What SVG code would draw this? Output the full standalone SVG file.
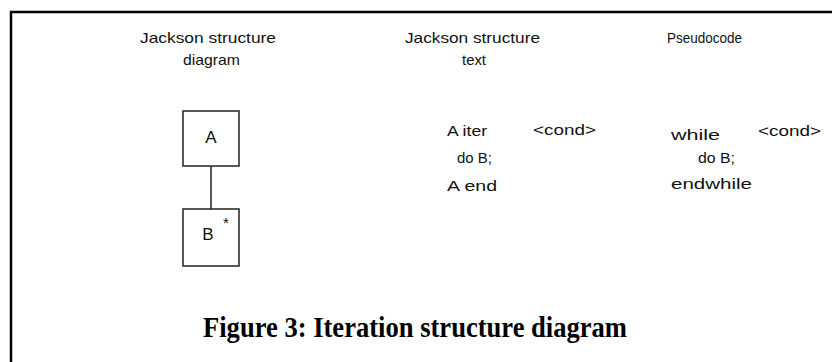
<svg xmlns="http://www.w3.org/2000/svg" width="832" height="362" viewBox="0 0 832 362">
  <style>
    .hdr { font-family: "Liberation Sans", Arial, sans-serif; font-size: 14.5px; fill: #111; }
    .code { font-family: "Liberation Sans", Arial, sans-serif; font-size: 15px; fill: #111; }
    .box { fill: #fff; stroke: #222; stroke-width: 1.5; }
    .lbl { font-family: "Liberation Sans", Arial, sans-serif; font-size: 17px; fill: #111; text-anchor: middle; }
    .caption { font-family: "Liberation Serif", "Times New Roman", serif; font-size: 30px; font-weight: bold; fill: #000; }
  </style>

  <rect x="0" y="0" width="832" height="362" fill="#fff"/>

  <!-- frame -->
  <path d="M11,362 V12 H832" fill="none" stroke="#000" stroke-width="2.5"/>

  <!-- column headings -->
  <g id="headings" class="hdr">
    <text x="140" y="43" textLength="136" lengthAdjust="spacingAndGlyphs">Jackson structure</text>
    <text x="183" y="65" textLength="57" lengthAdjust="spacingAndGlyphs">diagram</text>
    <text x="405" y="43" textLength="135" lengthAdjust="spacingAndGlyphs">Jackson structure</text>
    <text x="462" y="65" textLength="24" lengthAdjust="spacingAndGlyphs">text</text>
    <text x="667" y="43" textLength="75" lengthAdjust="spacingAndGlyphs">Pseudocode</text>
  </g>

  <!-- connectors -->
  <g id="connectors">
    <line x1="211" y1="166" x2="211" y2="209" stroke="#222" stroke-width="1.5"/>
  </g>

  <g id="node-a">
    <rect class="box" x="183" y="111" width="56" height="55"/>
    <text class="lbl" x="211" y="143">A</text>
  </g>

  <g id="node-b">
    <rect class="box" x="183" y="209" width="56" height="57"/>
    <text class="lbl" x="208" y="240">B</text>
    <text class="code" x="223" y="228" font-size="11">*</text>
  </g>

  <!-- structure text -->
  <g id="structure-text" class="code">
    <text x="447" y="136" textLength="40" lengthAdjust="spacingAndGlyphs">A iter</text>
    <text x="533" y="135" textLength="63" lengthAdjust="spacingAndGlyphs">&lt;cond&gt;</text>
    <text x="457" y="163" textLength="35" lengthAdjust="spacingAndGlyphs">do B;</text>
    <text x="447" y="191" textLength="50" lengthAdjust="spacingAndGlyphs">A end</text>
  </g>

  <!-- pseudocode -->
  <g id="pseudocode" class="code">
    <text x="671" y="140" textLength="49" lengthAdjust="spacingAndGlyphs">while</text>
    <text x="758" y="136" textLength="63" lengthAdjust="spacingAndGlyphs">&lt;cond&gt;</text>
    <text x="698" y="163" textLength="37" lengthAdjust="spacingAndGlyphs">do B;</text>
    <text x="671" y="189" textLength="81" lengthAdjust="spacingAndGlyphs">endwhile</text>
  </g>

  <text class="caption" x="203" y="337" textLength="424" lengthAdjust="spacingAndGlyphs">Figure 3: Iteration structure diagram</text>
</svg>
